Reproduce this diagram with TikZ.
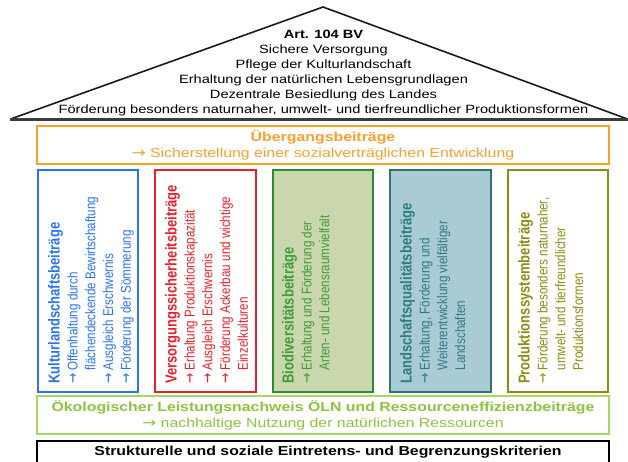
\documentclass[tikz,border=0pt]{standalone}
\usepackage{fontspec}
\setmainfont{Liberation Sans}
\newfontfamily\arrowfont{DejaVu Sans}
\newcommand{\myarrow}{{\arrowfont\scalebox{1.05}{→}}}
\definecolor{roofline}{HTML}{1A1A1A}
\definecolor{orng}{HTML}{F7A12A}
\definecolor{blu}{HTML}{2A74F0}
\definecolor{rd}{HTML}{E8202A}
\definecolor{grnline}{HTML}{2E8B30}
\definecolor{grnfill}{HTML}{CAD7AE}
\definecolor{grntext}{HTML}{3E9C3A}
\definecolor{tealline}{HTML}{2C7378}
\definecolor{tealfill}{HTML}{AACAD4}
\definecolor{tealtext}{HTML}{2D7D84}
\definecolor{olv}{HTML}{8E8C12}
\definecolor{lgrn}{HTML}{A8D860}
\definecolor{lgrntext}{HTML}{8CC43C}
\begin{document}
\begin{tikzpicture}[x=1pt,y=-1pt,
  txt/.style={xscale=1.22, inner sep=0pt},
  widebox/.style={draw, line width=2pt, inner sep=0pt, minimum width=572pt, minimum height=38pt},
  colbox/.style={draw, line width=2pt, inner sep=0pt, minimum width=#1, minimum height=222pt},
  coltext/.style={txt, rotate=90, anchor=north west, align=left, font=\fontsize{11.6}{14.6}\selectfont},
  head/.style={font=\fontsize{13}{16}\selectfont}
]
\useasboundingbox (0,0) rectangle (628,461);
% roof
\draw[line width=1.6pt, roofline, line join=miter] (12,118.5) -- (323,7) -- (626,118.5);
\draw[line width=2.4pt, roofline!85] (10,119.5) -- (628,119.5);
\node[txt, align=center, font=\fontsize{12}{15}\selectfont] (roof) at (323.5,73)
  {\textbf{Art. 104 BV}\\Sichere Versorgung\\Pflege der Kulturlandschaft\\Erhaltung der natürlichen Lebensgrundlagen\\Dezentrale Besiedlung des Landes\\Förderung besonders naturnaher, umwelt- und tierfreundlicher Produktionsformen};
% Uebergangsbeitraege
\node[widebox, draw=orng] (ueb) at (323,145) {};
\node[txt, head, align=center, text=orng] (uebt) at (323,145)
  {\textbf{Übergangsbeiträge}\\\myarrow{} Sicherstellung einer sozialverträglichen Entwicklung};
% columns
\node[colbox=100pt, draw=blu] (kul) at (88,281) {};
\node[colbox=101pt, draw=rd] (ver) at (205.5,281) {};
\node[colbox=100pt, draw=grnline, fill=grnfill] (bio) at (323,281) {};
\node[colbox=101pt, draw=tealline, fill=tealfill] (lqb) at (440.5,281) {};
\node[colbox=100pt, draw=olv] (psb) at (558,281) {};
\node[coltext, text=blu] (kult) at (48,384)
  {{\bfseries\fontsize{13}{14.6}\selectfont Kulturlandschaftsbeiträge}\\
   \myarrow{} Offenhaltung durch\\
   \phantom{\myarrow{} }flächendeckende Bewirtschaftung\\
   \myarrow{} Ausgleich Erschwernis\\
   \myarrow{} Förderung der Sömmerung};
\node[coltext, text=rd] (vert) at (165,384)
  {{\bfseries\fontsize{13}{14.6}\selectfont Versorgungssicherheitsbeiträge}\\
   \myarrow{} Erhaltung Produktionskapazität\\
   \myarrow{} Ausgleich Erschwernis\\
   \myarrow{} Förderung Ackerbau und wichtige\\
   \phantom{\myarrow{} }Einzelkulturen};
\node[coltext, text=grntext] (biot) at (282,384)
  {{\bfseries\fontsize{13}{14.6}\selectfont Biodiversitätsbeiträge}\\
   \myarrow{} Erhaltung und Förderung der\\
   \phantom{\myarrow{} }Arten- und Lebensraumvielfalt};
\node[coltext, text=tealtext] (lqbt) at (400,384)
  {{\bfseries\fontsize{13}{14.6}\selectfont Landschaftsqualitätsbeiträge}\\
   \myarrow{} Erhaltung, Förderung und\\
   \phantom{\myarrow{} }Weiterentwicklung vielfältiger\\
   \phantom{\myarrow{} }Landschaften};
\node[coltext, text=olv] (psbt) at (518,384)
  {{\bfseries\fontsize{13}{14.6}\selectfont Produktionssystembeiträge}\\
   \myarrow{} Förderung besonders naturnaher,\\
   \phantom{\myarrow{} }umwelt- und tierfreundlicher\\
   \phantom{\myarrow{} }Produktionsformen};
% OELN
\node[widebox, draw=lgrn] (oeln) at (323,415) {};
\node[txt, head, align=center, text=lgrntext] (oelnt) at (323,415)
  {\textbf{Ökologischer Leistungsnachweis ÖLN und Ressourceneffizienzbeiträge}\\\myarrow{} nachhaltige Nutzung der natürlichen Ressourcen};
% structural criteria
\coordinate (sbl) at (37,462);
\coordinate (sbr) at (609,462);
\draw[line width=2pt, black] (sbl) -- (37,441) -- (609,441) -- (sbr);
\node[txt, head, text=black] (struct) at (328,452)
  {\textbf{Strukturelle und soziale Eintretens- und Begrenzungskriterien}};
\end{tikzpicture}
\end{document}
